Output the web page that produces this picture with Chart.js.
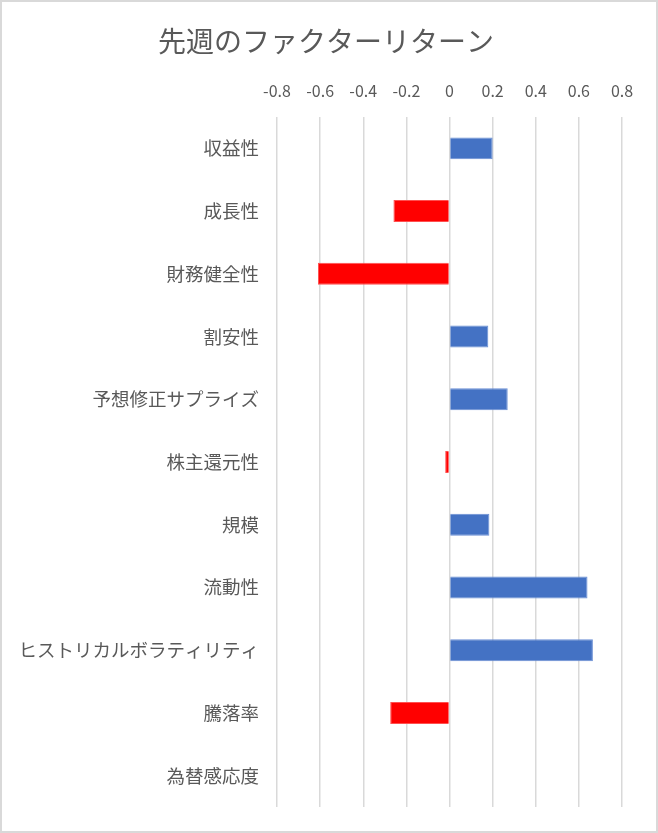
<!DOCTYPE html>
<html>
<head>
<meta charset="utf-8">
<script src="https://cdn.jsdelivr.net/npm/chart.js@4/dist/chart.umd.min.js"></script>
<style>
html,body{margin:0;padding:0;background:#fff;}
#wrap{position:relative;width:658px;height:833px;}
#frame{position:absolute;left:0;top:0;width:658px;height:833px;box-sizing:border-box;border:2px solid #d9d9d9;pointer-events:none;}
canvas{display:block;}
</style>
</head>
<body>
<div id="wrap">
<canvas id="c" width="658" height="833"></canvas>
<div id="frame"></div>
</div>
<script>
const categories = ["収益性","成長性","財務健全性","割安性","予想修正サプライズ","株主還元性","規模","流動性","ヒストリカルボラティリティ","騰落率","為替感応度"];
const factorReturns = [0.20, -0.26, -0.61, 0.18, 0.27, -0.02, 0.185, 0.64, 0.665, -0.275, 0];
const xTicks = [-0.8, -0.6, -0.4, -0.2, 0, 0.2, 0.4, 0.6, 0.8];
const chartTitle = "先週のファクターリターン";

const FONT = "'Noto Sans CJK JP', 'Noto Sans', sans-serif";
const TXT = "#595959";

const titlePlugin = {
  id: 'centeredTitle',
  afterDraw(chart) {
    const ctx = chart.ctx;
    ctx.save();
    ctx.font = "normal 28px " + FONT;
    ctx.fillStyle = TXT;
    ctx.textAlign = 'center';
    ctx.textBaseline = 'middle';
    ctx.fillText(chartTitle, chart.width / 2 - 3, 41);
    ctx.restore();
  }
};

new Chart(document.getElementById('c'), {
  type: 'bar',
  data: {
    labels: categories,
    datasets: [{
      data: factorReturns,
      backgroundColor: ctx => (ctx.raw < 0 ? '#FF0000' : '#4472C4'),
      borderColor: ctx => (ctx.raw < 0 ? '#FF5050' : '#6A8FD4'),
      borderWidth: 1,
      barPercentage: 0.35,
      categoryPercentage: 1.0
    }]
  },
  plugins: [titlePlugin],
  options: {
    indexAxis: 'y',
    responsive: false,
    animation: false,
    layout: { padding: { left: 0, right: 36, top: 66, bottom: 26 } },
    plugins: {
      legend: { display: false },
      tooltip: { enabled: false },
      title: { display: false }
    },
    scales: {
      x: {
        position: 'top',
        min: -0.8,
        max: 0.8,
        afterBuildTicks: s => { s.ticks = xTicks.map(v => ({ value: v })); },
        ticks: {
          color: TXT,
          font: { family: FONT, size: 16 },
          padding: 16,
          callback: v => (Math.abs(v) < 1e-9 ? '0' : String(Math.round(v * 10) / 10))
        },
        grid: { color: '#d9d9d9', lineWidth: 1.5, drawTicks: false },
        border: { display: false },
        afterFit: s => { s.height = 51; }
      },
      y: {
        ticks: {
          color: TXT,
          font: { family: FONT, size: 18.5 },
          padding: 10
        },
        grid: { display: false },
        border: { display: false },
        afterFit: s => { s.width = 277; }
      }
    }
  }
});
</script>
</body>
</html>
